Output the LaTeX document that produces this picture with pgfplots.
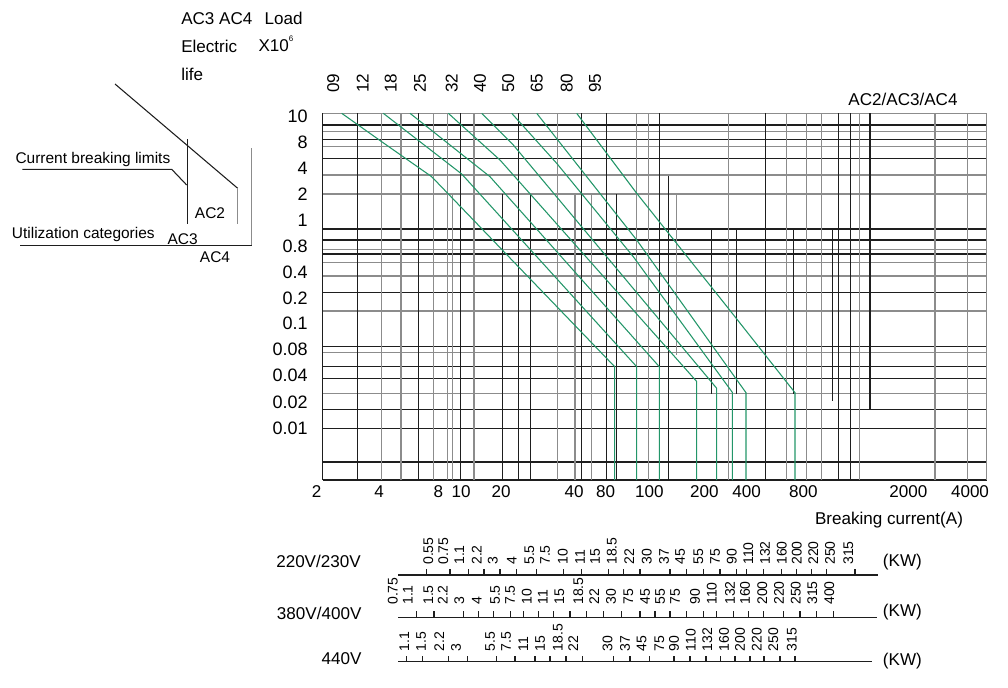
\documentclass[border=0pt]{standalone}
\usepackage{fontspec}
\setmainfont{Liberation Sans}
\usepackage{pgfplots}
\pgfplotsset{compat=1.18}
\definecolor{gk}{RGB}{30,30,30}
\definecolor{gg}{RGB}{140,140,140}
\definecolor{cg}{RGB}{35,150,105}
\tikzset{
  dk/.style={gk, line width=0.85pt},
  gy/.style={gg, line width=0.95pt},
  curve/.style={cg, line width=0.8pt},
  lab/.style={font=\fontsize{12.8}{15}\selectfont, inner sep=0pt},
  ylab/.style={font=\fontsize{13.5}{15}\selectfont, inner sep=0pt, anchor=east},
  note/.style={font=\fontsize{11.6}{14}\selectfont, inner sep=0pt},
  kwl/.style={rotate=90, anchor=west, inner sep=0pt, font=\fontsize{10.5}{12}\selectfont},
}

% one horizontal / vertical grid line (pixel coordinates of the sheet)
\newcommand\hl[2]{\addplot[#2] coordinates {(322.7,#1) (986.7,#1)};}
\newcommand\vl[4]{\addplot[#4] coordinates {(#1,#2) (#1,#3)};}
% rotated kW labels of one voltage row
\newcommand\kwrow[2]{\foreach \x/\t in {#2}{\edef\tmp{\noexpand\node[kwl] at (axis cs:\x,#1) {\t};}\tmp}}

\begin{document}
\begin{tikzpicture}
\begin{axis}[
  scale only axis, width=756pt, height=515.25pt,
  xmin=0, xmax=1008, ymin=0, ymax=687, y dir=reverse,
  hide axis, clip=false, no markers,
]
% ---- horizontal grid
\hl{113.3}{gy}
\hl{125}{dk} \hl{131.7}{gy} \hl{139.3}{dk} \hl{146.7}{gy} \hl{158.3}{dk}
\hl{175}{gy} \hl{194}{gy} \hl{229}{dk} \hl{240}{dk} \hl{249.3}{gy}
\hl{254}{dk} \hl{262.5}{gy} \hl{276}{gy} \hl{292.5}{dk} \hl{311}{gy}
\hl{346.7}{dk} \hl{352.7}{gy} \hl{366.7}{dk} \hl{378.5}{dk} \hl{393.3}{gy}
\hl{409.3}{dk} \hl{428.7}{dk} \hl{462}{dk}
\hl{480}{dk}
% ---- vertical grid, full height
\pgfplotsinvokeforeach{322.7,357.3,418.7,460.7,518.3,581.7,606.7,659.3,765.7,838.3,850.7}{
  \addplot[dk] coordinates {(#1,113.3) (#1,480)};}
\pgfplotsinvokeforeach{381.7,401,433.3,447.7,474,557.3,636.7,648.5,728.3,786.7,806.7,821.7,859.3,935,967.7,986.7}{
  \addplot[gy] coordinates {(#1,113.3) (#1,480)};}
% ---- vertical grid, partial
\vl{452.7}{194}{480}{gy} \vl{502.3}{194}{480}{dk} \vl{530.7}{194}{480}{dk}
\vl{575}{194}{480}{gy} \vl{591.7}{194}{480}{gy} \vl{616.7}{194}{480}{dk}
\vl{668.3}{175.7}{480}{dk} \vl{676.7}{194}{355}{gy}
\vl{711.7}{229}{394}{dk} \vl{736.7}{229}{394}{dk} \vl{793.3}{229}{394}{dk}
\vl{832.3}{229}{400.7}{dk} \vl{870}{113.3}{409}{dk}

% ---- life curves
\addplot[curve] coordinates {(341.7,113.3) (381.7,141.7) (431.7,176.7) (614.7,366.7) (614.7,480)};
\addplot[curve] coordinates {(383.3,113.3) (461.7,174) (636.7,366.7) (636.7,480)};
\addplot[curve] coordinates {(410,113.3) (490,176.7) (659.3,366.7) (659.3,480)};
\addplot[curve] coordinates {(448.3,113.3) (500,160) (696.7,381.5) (696.7,480)};
\addplot[curve] coordinates {(481.7,113.3) (513.3,145) (716.7,388.3) (716.7,480)};
\addplot[curve] coordinates {(511.7,113.3) (556.7,163.3) (633.3,256.7) (732.3,392.3) (732.3,480)};
\addplot[curve] coordinates {(536.7,113.3) (636.7,240) (746,392.7) (746,480)};
\addplot[curve] coordinates {(576.7,113.3) (636.7,193.3) (728.3,308.3) (795,392.7) (795,480)};

% ---- y labels
\foreach \y/\t in {116/10,142/8,168/4,194.5/2,220/1,246/0.8,272/0.4,298/0.2,323.5/0.1,349.5/0.08,375.5/0.04,402/0.02,428/0.01}{
  \edef\tmp{\noexpand\node[ylab] at (axis cs:308,\y) {\t};}\tmp}
% ---- x labels
\foreach \x/\t in {316.7/2,379/4,438.3/8,461/10,501/20,574/40,605.5/80,649.3/100,704.3/200,746.7/400,803.3/800,908.3/2000,970/4000}{
  \edef\tmp{\noexpand\node[lab] at (axis cs:\x,492) {\t};}\tmp}
% ---- contactor ratings on top
\foreach \x/\t in {333.3/09,362.7/12,390.7/18,420/25,451.7/32,480/40,508.3/50,536.7/65,566.7/80,595/95}{
  \edef\tmp{\noexpand\node[lab,rotate=90] at (axis cs:\x,83) {\t};}\tmp}
\node[lab] at (axis cs:903,99) {AC2/AC3/AC4};
\node[lab] at (axis cs:889,520) {Breaking current(A)};

% ---- legend sketch, top left
\node[lab,anchor=west] at (axis cs:181,18.3) {AC3 AC4};
\node[lab,anchor=west] at (axis cs:264.3,18.3) {Load};
\node[lab,anchor=west] at (axis cs:181,46) {Electric};
\node[lab,anchor=west] at (axis cs:258.3,46) {X10\smash{\raisebox{1.1ex}{\fontsize{6}{6}\selectfont 6}}};
\node[lab,anchor=west] at (axis cs:181,74) {life};
\node[note,anchor=west] at (axis cs:15.3,159.3) {Current breaking limits};
\node[note] at (axis cs:210,212.7) {AC2};
\node[note,anchor=west] at (axis cs:11.7,234.3) {Utilization categories};
\node[note] at (axis cs:182.7,238.7) {AC3};
\node[note] at (axis cs:215,256.7) {AC4};
\addplot[gk,line width=0.8pt] coordinates {(115,84) (237.7,188.3)};
\addplot[gg,line width=1pt] coordinates {(237.7,188.3) (237.7,224.3)};
\addplot[gk,line width=0.8pt] coordinates {(187.7,139.3) (187.7,224.3)};
\addplot[gk,line width=0.8pt] coordinates {(22.3,169.3) (171.7,169.3) (186.7,185)};
\addplot[gk,line width=0.8pt] coordinates {(20,245.3) (251.7,245.3)};
\addplot[gg,line width=1pt] coordinates {(251.7,245.3) (251.7,148.3)};

% ---- kW scales
\node[lab,anchor=east] at (axis cs:361,561.7) {220V/230V};
\node[lab,anchor=east] at (axis cs:361.7,613.3) {380V/400V};
\node[lab,anchor=east] at (axis cs:361.7,658.3) {440V};
\node[lab,anchor=west] at (axis cs:882.7,561.7) {(KW)};
\node[lab,anchor=west] at (axis cs:882.7,612.3) {(KW)};
\node[lab,anchor=west] at (axis cs:882.7,661) {(KW)};
\addplot[gk,line width=0.8pt] coordinates {(398.3,575) (877.7,575)};
\addplot[gk,line width=0.8pt] coordinates {(398.3,617.3) (876.7,617.3)};
\addplot[gk,line width=0.8pt] coordinates {(398.3,661.7) (871.7,661.7)};
\pgfplotsinvokeforeach{426.7,450,468.3,484,500,516.7,536.7,563.3,581.7,608.3,623.3,640,670,686.7,703.3,720,736.7,746.7,763.3,781.7,796.7,811.7,826.7,855}{
  \addplot[gk,line width=0.8pt] coordinates {(#1,575) (#1,569)};}
\pgfplotsinvokeforeach{416.7,434,463.3,478.3,493.3,510.7,523.3,538.3,553.3,570,586.7,603.3,621.7,640,655,670,686.7,703.3,716.7,733.3,748.3,763.3,783.3,800,816.7,833.3}{
  \addplot[gk,line width=0.8pt] coordinates {(#1,617.3) (#1,611.3)};}
\pgfplotsinvokeforeach{406.7,422.7,448.3,467.3,496.7,515,535,550,566,582.7,613.3,630,649.3,674,690,706,720.7,735,750,764,780,795}{
  \addplot[gk,line width=0.8pt] coordinates {(#1,661.7) (#1,655.7)};}
\kwrow{565}{428.3/0.55,443.3/0.75,459.3/1.1,476.7/2.2,492.7/3,511.7/4,529.3/5.5,545/7.5,562.7/10,580/11,595/15,611.7/18.5,629.3/22,646.7/30,664/37,680/45,698.3/55,715/75,731.7/90,748.3/110,765/132,781.7/160,796.7/200,813.3/220,830/250,848.3/315}
\kwrow{605}{392.7/0.75,407.7/1.1,428.3/1.5,442.7/2.2,459.3/3,476.7/4,495/5.5,510/7.5,526.7/10,542.7/11,559.3/15,578.3/18.5,594.3/22,611/30,628.3/75,645/45,660/55,675/75,695/90,711.7/110,730/132,745/160,762.3/200,779/220,795.7/250,812.3/315,829.3/400}
\kwrow{651.5}{404.3/1.1,421/1.5,439.3/2.2,456/3,490/5.5,506/7.5,523.3/11,540/15,557.7/18.5,573.3/22,607.5/30,625/37,641.7/45,659.3/75,674/90,690.7/110,707.3/132,724/160,740/200,756.7/220,773.3/250,791.7/315}
\end{axis}
\pgfresetboundingbox
\path[use as bounding box] (current axis.south west) rectangle (current axis.north east);
\end{tikzpicture}
\end{document}
